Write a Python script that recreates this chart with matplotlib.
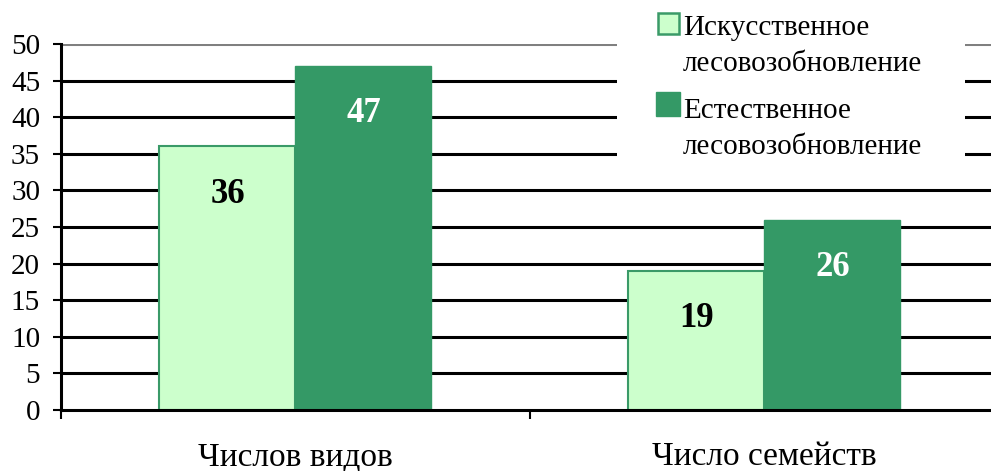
import matplotlib
matplotlib.use("Agg")
import matplotlib.pyplot as plt
from matplotlib.patches import Rectangle
import numpy as np

categories = ["Числов видов", "Число семейств"]
series_names = ["Искусственное\nлесовозобновление", "Естественное\nлесовозобновление"]
artificial = [36, 19]
natural = [47, 26]
yticks = list(range(0, 51, 5))

LIGHT = "#CCFFCC"
DARK = "#349966"
EDGE = "#3A9A68"

plt.rcParams["font.family"] = ["Liberation Serif", "DejaVu Serif"]

W, H = 991, 471
fig = plt.figure(figsize=(W / 100, H / 100), dpi=100)
ax = fig.add_axes([61 / W, 61 / H, 930 / W, 366 / H])

x = np.arange(len(categories))
w = 0.29
b1 = ax.bar(x - w / 2, artificial, w, color=LIGHT, edgecolor=EDGE,
            linewidth=1.5, zorder=3)
b2 = ax.bar(x + w / 2, natural, w, color=DARK, edgecolor=DARK,
            linewidth=1.0, zorder=3)

for bars, color in ((b1, "black"), (b2, "white")):
    for rect in bars:
        ax.annotate(f"{int(rect.get_height())}",
                    (rect.get_x() + rect.get_width() / 2, rect.get_height()),
                    xytext=(0, -48), textcoords="offset pixels",
                    ha="center", va="center", fontsize=25, fontweight="bold",
                    color=color, zorder=4)

ax.set_ylim(0, 50)
ax.set_xlim(-0.5, 1.483)
ax.set_yticks(yticks)
for y in yticks[1:]:
    ax.axhline(y, color="#808080" if y == 50 else "black", linewidth=2.2,
               zorder=1)

ax.set_xticks([-0.5, 0.5])
ax.set_xticklabels([])
ax.set_xticks(x, minor=True)
ax.set_xticklabels(categories, minor=True, fontsize=24)
ax.tick_params(axis="x", which="minor", length=0, pad=23)
ax.tick_params(axis="x", which="major", length=6.5, width=1.5,
               direction="out")
ax.tick_params(axis="y", length=6, width=1.5, direction="out", labelsize=21,
               pad=9)

for side in ("top", "right"):
    ax.spines[side].set_visible(False)
ax.spines["left"].set_linewidth(2.2)
ax.spines["bottom"].set_linewidth(2.2)
ax.spines["left"].set_zorder(5)
ax.spines["bottom"].set_zorder(5)

# legend drawn by hand so the swatch sits beside the first text line
fig.patches.append(Rectangle((617 / W, (H - 166) / H), 348 / W, 166 / H,
                             transform=fig.transFigure, facecolor="white",
                             edgecolor="none", zorder=10))
swatches = [(LIGHT, EDGE, 1.8, 13, 21, 658, 4),
            (DARK, DARK, 1.0, 92, 24, 656, 8)]
for (fc, ec, lw, top, size, left, dy), name in zip(swatches, series_names):
    fig.patches.append(Rectangle((left / W, (H - top - size) / H),
                                 size / W, size / H,
                                 transform=fig.transFigure, facecolor=fc,
                                 edgecolor=ec, linewidth=lw, zorder=11))
    fig.text(683 / W, (H - top - dy + 2) / H, name, ha="left", va="top",
             fontsize=21, linespacing=1.5, zorder=12)

fig.savefig("out.png", dpi=100)
